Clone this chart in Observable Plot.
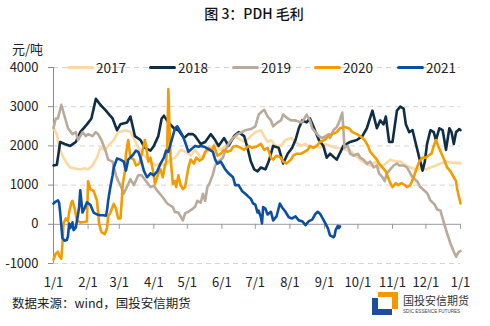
<!DOCTYPE html>
<html>
<head>
<meta charset="utf-8">
<script src="https://cdn.jsdelivr.net/npm/d3@7"></script>
<script src="https://cdn.jsdelivr.net/npm/@observablehq/plot@0.6"></script>
<style>
  html, body { margin: 0; padding: 0; background: #fff; }
  body { width: 490px; height: 326px; position: relative; overflow: hidden;
         font-family: 'Noto Sans CJK SC', 'Noto Sans', sans-serif; color: #222; }
  .abs { position: absolute; white-space: nowrap; }
  #title { left: 0; width: 508px; top: 3px; text-align: center; font-size: 14px; font-weight: 500; color: #111; }
  #unit { left: 12px; top: 42px; font-size: 13px; line-height: 14px; }
  #chart { left: 0; top: 30px; }
  #source { left: 12px; top: 293px; font-size: 12.5px; }
  .leg { position: absolute; top: 58px; height: 18px; font-size: 13.5px; line-height: 18px; }
  .sw { position: absolute; top: 8px; width: 27px; height: 3px; border-radius: 1.5px; }
  .lt { position: absolute; left: 29px; top: 0; }
</style>
</head>
<body>
<div id="title" class="abs">图 3：PDH 毛利</div>
<div id="unit" class="abs">元/吨</div>
<div id="chart" class="abs"></div>
<div id="legend"></div>
<div id="source" class="abs">数据来源：wind，国投安信期货</div>
<div id="logo" class="abs" style="left:370px;top:290px;width:110px;height:30px;">
  <svg width="110" height="30">
    <rect x="8" y="2" width="20" height="5" fill="#F39800"></rect>
    <rect x="22" y="2" width="6" height="17" fill="#F39800"></rect>
    <rect x="2" y="8" width="6" height="17" fill="#1D4E9E"></rect>
    <rect x="2" y="19" width="20" height="6" fill="#1D4E9E"></rect>
    <text x="33" y="15" font-size="11" fill="#333" font-family="'Noto Sans CJK SC', sans-serif">国投安信期货</text>
    <text x="33" y="23" font-size="4.6" fill="#444" font-family="'Liberation Sans', sans-serif">SDIC ESSENCE FUTURES</text>
  </svg>
</div>
<script>
// ---- data: [day of year, 元/吨] ----
const years = ["2017", "2018", "2019", "2020", "2021"];
const colors = ["#FAD9A2", "#0F2D45", "#B9AA9C", "#F59B00", "#0B4EA3"];

const s2017 = [[0,2450],[3,2300],[5,1980],[8,1750],[12,1550],[15,1450],[20,1420],[24,1400],[28,1430],[31,1400],[35,1500],[39,1700],[42,1950],[46,1900],[49,2000],[54,2150],[58,2350],[62,2380],[65,2400],[69,2350],[73,2150],[76,1950],[80,1800],[83,1700],[87,1600],[91,1500],[96,1550],[100,1500],[105,1650],[109,1700],[114,1900],[119,1850],[123,1750],[127,1900],[132,1700],[136,1800],[141,1950],[145,2050],[150,1900],[154,2000],[159,2150],[163,2250],[168,2150],[172,2100],[177,2250],[181,2350],[186,2400],[188,2300],[192,2100],[195,2150],[199,2000],[204,2000],[208,2150],[213,2200],[217,2100],[222,2000],[226,2050],[230,1950],[235,2000],[239,1950],[244,2050],[248,2000],[253,1950],[257,1950],[262,1900],[266,1880],[271,1750],[275,1650],[280,1550],[284,1500],[289,1600],[293,1450],[298,1550],[302,1650],[307,1600],[311,1600],[316,1500],[320,1450],[325,1400],[329,1420],[334,1400],[338,1450],[343,1500],[347,1550],[352,1600],[356,1580],[361,1560],[365,1560]];

const s2018 = [[0,1500],[3,1520],[6,2100],[10,2050],[15,2000],[20,2100],[24,2350],[30,2550],[34,2700],[38,3200],[42,3050],[47,2900],[50,2800],[53,2700],[57,2400],[60,2550],[66,2600],[69,2750],[73,2250],[78,2150],[82,1950],[87,1880],[90,2000],[94,2250],[97,2700],[99,2770],[103,2600],[108,2450],[112,2400],[117,2200],[121,2300],[125,2300],[127,2250],[132,2050],[136,2100],[141,2300],[145,2150],[148,2000],[153,2200],[157,2000],[162,2250],[166,2350],[171,2250],[174,1950],[177,1600],[180,1400],[183,1350],[186,1450],[190,1400],[193,1600],[197,2000],[202,1950],[206,1550],[210,1800],[214,1950],[217,2150],[220,2450],[223,2650],[227,2600],[230,2700],[233,2500],[238,2150],[242,2000],[245,1700],[248,1800],[254,1650],[260,2000],[266,2100],[272,2150],[277,2250],[281,2450],[286,2900],[290,2450],[293,2650],[296,2550],[298,2750],[301,2100],[304,2100],[306,2500],[308,2900],[311,3000],[314,2950],[316,2550],[319,2350],[322,2400],[325,2050],[328,1700],[331,1370],[333,1600],[335,2050],[338,2400],[341,2350],[343,2150],[346,2450],[349,2400],[352,1900],[355,2450],[357,2350],[359,2050],[361,2350],[364,2430],[365,2400]];

const s2019 = [[0,2450],[2,2700],[4,2700],[7,3050],[10,2750],[13,2450],[17,2300],[20,2350],[22,2150],[26,2350],[29,2250],[31,2300],[35,2250],[38,2350],[40,2300],[43,2150],[47,1850],[49,1650],[53,1600],[56,1250],[58,1100],[60,1000],[63,780],[65,900],[69,1150],[72,1000],[76,1250],[79,1250],[83,1100],[87,950],[90,980],[93,860],[98,690],[102,530],[107,440],[109,310],[112,300],[116,100],[118,280],[121,320],[125,400],[127,450],[129,600],[132,550],[134,780],[136,600],[138,950],[140,1050],[143,1280],[145,1500],[148,1600],[152,1700],[154,1880],[157,2050],[161,2200],[165,2300],[169,2350],[172,2400],[177,2430],[181,2500],[184,2800],[187,2880],[189,2920],[192,2750],[195,2650],[197,2500],[201,2600],[204,2650],[206,2800],[210,2700],[213,2650],[217,2650],[222,2600],[224,2650],[227,2800],[230,2650],[232,2450],[235,2350],[238,2250],[241,2200],[244,2250],[247,2300],[248,2200],[251,2400],[254,2480],[256,2600],[259,2850],[261,1950],[264,2000],[266,1800],[269,1750],[273,1800],[275,1700],[278,1650],[281,1550],[284,1600],[287,1450],[290,1500],[292,1300],[295,1200],[297,1100],[299,1300],[302,1400],[305,1500],[308,1550],[310,1500],[314,1500],[317,1450],[319,1350],[322,1200],[326,1100],[329,950],[333,850],[335,800],[338,610],[342,500],[344,380],[347,350],[350,50],[353,-230],[356,-490],[359,-700],[361,-830],[363,-720],[365,-680]];

const s2020 = [[0,-900],[2,-750],[4,-700],[5,-800],[7,-880],[8,-500],[9,20],[11,150],[13,80],[14,300],[16,550],[17,600],[19,400],[21,100],[22,80],[24,50],[28,60],[30,80],[31,1100],[33,900],[36,850],[39,600],[41,0],[43,-200],[46,-250],[48,-100],[49,200],[51,300],[54,520],[56,400],[58,150],[60,150],[61,500],[62,1000],[64,1350],[65,1800],[67,2150],[69,1700],[72,1650],[74,1500],[77,1550],[80,1900],[82,2150],[83,2000],[85,1600],[87,1700],[89,1400],[91,1030],[94,1300],[96,1400],[98,1200],[100,1500],[101,1600],[102,2000],[103,3450],[104,2500],[105,1700],[107,1030],[109,1100],[110,950],[112,1250],[114,1000],[116,900],[118,950],[121,1450],[123,1650],[126,1550],[128,1700],[131,1620],[134,1680],[136,1850],[139,1950],[142,1880],[144,2000],[147,1750],[150,1800],[153,1900],[156,1850],[159,1880],[161,1980],[164,2000],[168,1950],[171,1900],[175,2000],[178,1950],[182,1980],[186,2050],[189,1900],[192,1950],[195,1700],[197,1650],[200,1750],[204,1700],[206,1600],[209,1550],[213,1650],[215,1750],[218,1800],[222,1800],[225,1850],[228,1900],[230,2000],[233,1950],[236,2000],[239,2100],[243,2150],[247,2250],[250,2300],[254,2350],[257,2450],[261,2480],[265,2450],[268,2350],[272,2300],[275,2250],[279,2150],[282,2000],[284,1850],[287,1750],[290,1650],[292,1550],[295,1450],[298,1350],[300,1200],[302,1050],[304,950],[307,1050],[309,1000],[312,1050],[315,1000],[317,950],[320,1000],[323,1200],[326,1450],[328,1600],[331,1700],[334,1700],[336,1750],[339,1800],[341,2000],[343,2150],[345,2000],[348,1800],[351,1600],[353,1450],[356,1350],[359,1200],[361,1100],[362,900],[364,650],[365,530]];

const s2021 = [[0,530],[2,580],[4,610],[5,550],[6,300],[8,-350],[10,-420],[12,-400],[13,-300],[14,20],[15,-100],[17,50],[18,-150],[20,-80],[22,250],[23,450],[24,870],[26,300],[28,420],[30,560],[33,500],[36,300],[39,250],[42,230],[45,230],[47,220],[48,350],[49,600],[51,950],[53,1250],[54,1450],[56,1600],[57,1680],[60,1650],[63,1600],[65,1370],[67,1650],[71,1760],[74,1880],[76,1850],[78,1700],[81,1370],[83,1250],[84,1200],[87,1300],[90,1250],[93,1350],[96,1550],[99,1700],[101,1880],[103,1850],[105,2050],[107,2250],[109,2450],[111,2500],[113,2400],[116,2250],[118,2100],[121,1850],[125,1950],[127,2000],[130,1980],[132,2000],[135,1980],[137,1950],[140,1900],[143,1850],[145,1650],[147,1550],[150,1600],[152,1500],[154,1400],[157,1300],[161,1200],[163,1000],[166,1000],[169,850],[172,780],[175,700],[177,650],[179,530],[181,500],[183,300],[184,350],[186,180],[187,20],[188,440],[190,400],[192,250],[195,320],[197,100],[200,200],[203,530],[205,430],[208,320],[211,180],[214,150],[217,200],[220,100],[223,80],[226,-20],[229,80],[232,120],[235,270],[237,320],[239,270],[242,120],[246,-100],[248,-280],[251,-330],[252,-300],[253,-150],[255,-40],[256,-100],[257,-50]];

const yTicks = [-1000, 0, 1000, 2000, 3000, 4000];
const gridValues = [-1000, 1000, 2000, 3000, 4000];
const monthStarts = d3.utcMonths(new Date(Date.UTC(2021, 0, 1)), new Date(Date.UTC(2022, 0, 2)));

const seriesList = [s2017, s2018, s2019, s2020, s2021];
const toDate = (day) => new Date(Date.UTC(2021, 0, 1 + day));
const rows = seriesList.flatMap((s, i) => s.map(([day, v]) => ({year: years[i], date: toDate(day), value: v})));

const font = "'Noto Sans CJK SC', 'Noto Sans', sans-serif";
const x0 = monthStarts[0];

const chart = Plot.plot({
  width: 490,
  height: 264,
  marginLeft: 53,
  marginRight: 30,
  marginTop: 37,
  marginBottom: 31,
  style: {fontFamily: font, fontSize: "13px", color: "#222", background: "transparent", overflow: "visible"},
  x: {type: "utc", domain: [monthStarts[0], monthStarts[12]]},
  y: {domain: [-1000, 4000]},
  color: {domain: years, range: colors},
  marks: [
    Plot.ruleY(gridValues, {stroke: "#d4d4d4", strokeWidth: 1, strokeDasharray: "5,4"}),
    Plot.ruleY([0], {stroke: "#9a9a9a", strokeWidth: 1}),
    Plot.ruleX(monthStarts, {y1: 0, y2: 0, insetBottom: -5, stroke: "#9a9a9a", strokeWidth: 1}),
    Plot.ruleX([x0], {y1: -1000, y2: 4000, stroke: "#8c8c8c", strokeWidth: 1}),
    Plot.axisY({ticks: yTicks, tickSize: 5, tickPadding: 10, tickFormat: (d) => String(d), label: null, stroke: "#8c8c8c"}),
    Plot.axisX({ticks: monthStarts, tickSize: 0, tickPadding: 14, tickFormat: (d) => `${d.getUTCMonth() + 1}/${d.getUTCDate()}`, label: null}),
    Plot.line(rows, {x: "date", y: "value", z: "year", stroke: "year", strokeWidth: 2.6, strokeLinejoin: "round", strokeLinecap: "round"})
  ]
});
document.getElementById("chart").appendChild(chart);

// legend
const legendLefts = [67, 149, 232, 314, 397];
const legend = document.getElementById("legend");
years.forEach((y, i) => {
  const item = document.createElement("div");
  item.className = "leg";
  item.style.left = legendLefts[i] + "px";
  item.innerHTML = `<div class="sw" style="background:${colors[i]}"></div><div class="lt">${y}</div>`;
  legend.appendChild(item);
});
</script>
</body>
</html>
